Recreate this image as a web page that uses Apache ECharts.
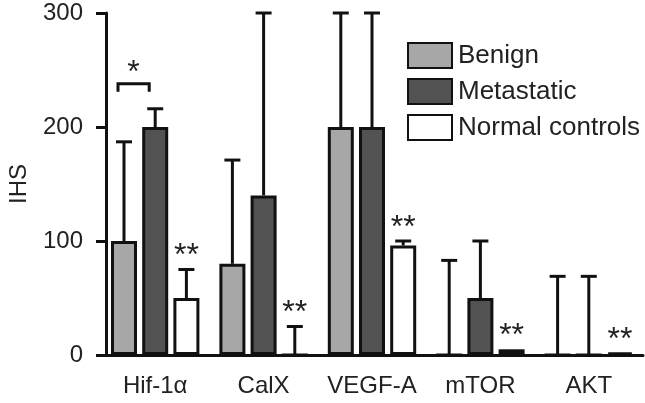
<!DOCTYPE html>
<html>
<head>
<meta charset="utf-8">
<script src="https://cdn.jsdelivr.net/npm/echarts@6/dist/echarts.min.js"></script>
<style>
html,body{margin:0;padding:0;background:#fff;}
#chart{width:645px;height:403px;}
</style>
</head>
<body>
<div id="chart"></div>
<script>
const categories = ['Hif-1\u03B1', 'CalX', 'VEGF-A', 'mTOR', 'AKT'];
const seriesNames = ['Benign', 'Metastatic', 'Normal controls'];
const benign = [100, 80, 200, 0, 0];
const benignErrTop = [187, 171, 300, 83, 69];
const metastatic = [200, 140, 200, 50, 0];
const metastaticErrTop = [216, 300, 300, 100, 69];
const normal = [50, 0, 96, 5, 2];
const normalErrTop = [75, 25, 100, 5, 2];
const normalSig = ['**', '**', '**', '**', '**'];
const yTicks = [0, 100, 200, 300];
// significance bracket between Benign and Metastatic for Hif-1α
const bracketCat = 0;
const bracketValue = 238;
const bracketLegValue = 231;
const bracketLabel = '*';

const FONT = '"Liberation Sans", Arial, sans-serif';
const BAR_W = 26;
const GAP_PCT = 0.2;
const STEP = BAR_W * (1 + GAP_PCT);
const offsets = [-STEP, 0, STEP];
const colors = ['#a7a7a7', '#525252', '#ffffff'];

const chart = echarts.init(document.getElementById('chart'), null, {renderer: 'canvas'});

function errSeries(vals, tops, idx) {
  return {
    type: 'custom',
    z: 5,
    clip: false,
    silent: true,
    data: vals.map((v, i) => [i, v, tops[i]]),
    renderItem: function (params, api) {
      const base = api.coord([api.value(0), api.value(1)]);
      const top = api.coord([api.value(0), api.value(2)]);
      const x = base[0] + offsets[idx];
      if (api.value(2) <= api.value(1)) return null;
      const st = {stroke: '#111', lineWidth: 3, fill: null};
      return {
        type: 'group',
        children: [
          {type: 'line', shape: {x1: x, y1: base[1], x2: x, y2: top[1]}, style: st},
          {type: 'line', shape: {x1: x - 8, y1: top[1], x2: x + 8, y2: top[1]}, style: st}
        ]
      };
    }
  };
}

const barStyle = (c) => ({color: c, borderColor: '#111', borderWidth: 3});

const option = {
  animation: false,
  backgroundColor: '#fff',
  grid: {left: 101, right: 2, top: 13, bottom: 48, containLabel: false, outerBoundsMode: 'none'},
  legend: {
    orient: 'vertical',
    left: 402,
    top: 37,
    itemWidth: 44,
    itemHeight: 25,
    itemGap: 9,
    icon: 'rect',
    data: seriesNames,
    textStyle: {fontFamily: FONT, fontSize: 26, color: '#222', padding: [0, 0, 0, 1]}
  },
  xAxis: {
    type: 'category',
    data: categories,
    axisLine: {lineStyle: {color: '#111', width: 3}},
    axisTick: {show: false},
    axisLabel: {fontFamily: FONT, fontSize: 24, color: '#222', margin: 19, interval: 0}
  },
  yAxis: {
    type: 'value',
    min: yTicks[0],
    max: yTicks[yTicks.length - 1],
    interval: 100,
    offset: -5,
    name: 'IHS',
    nameLocation: 'middle',
    nameRotate: 90,
    nameGap: 75,
    nameTextStyle: {fontFamily: FONT, fontSize: 24, color: '#222'},
    splitLine: {show: false},
    axisLine: {show: true, lineStyle: {color: '#111', width: 3}},
    axisTick: {show: true, length: 10, lineStyle: {color: '#111', width: 3}},
    axisLabel: {fontFamily: FONT, fontSize: 24, color: '#222', margin: 23}
  },
  series: [
    {name: seriesNames[0], type: 'bar', data: benign, barWidth: BAR_W, barGap: '20%', itemStyle: barStyle(colors[0])},
    {name: seriesNames[1], type: 'bar', data: metastatic, barWidth: BAR_W, barGap: '20%', itemStyle: barStyle(colors[1])},
    {name: seriesNames[2], type: 'bar', data: normal, barWidth: BAR_W, barGap: '20%', itemStyle: barStyle(colors[2])},
    errSeries(benign, benignErrTop, 0),
    errSeries(metastatic, metastaticErrTop, 1),
    errSeries(normal, normalErrTop, 2),
    {
      type: 'custom',
      z: 6,
      clip: false,
      silent: true,
      data: normalErrTop.map((v, i) => [i, Math.max(v, normal[i])]),
      renderItem: function (params, api) {
        const p = api.coord([api.value(0), api.value(1)]);
        return {
          type: 'text',
          style: {
            text: normalSig[params.dataIndex],
            x: p[0] + offsets[2],
            y: p[1] + 3,
            textAlign: 'center',
            textVerticalAlign: 'bottom',
            font: '32px ' + FONT,
            fill: '#222'
          }
        };
      }
    },
    {
      type: 'custom',
      z: 6,
      clip: false,
      silent: true,
      data: [[bracketCat, bracketValue, bracketLegValue]],
      renderItem: function (params, api) {
        const top = api.coord([api.value(0), api.value(1)]);
        const leg = api.coord([api.value(0), api.value(2)]);
        const x1 = top[0] + offsets[0] - 6;
        const x2 = top[0] + offsets[1] - 6;
        const st = {stroke: '#111', lineWidth: 3, fill: null};
        return {
          type: 'group',
          children: [
            {type: 'polyline', shape: {points: [[x1, leg[1]], [x1, top[1]], [x2, top[1]], [x2, leg[1]]]}, style: st},
            {type: 'text', style: {text: bracketLabel, x: (x1 + x2) / 2, y: top[1] + 5, textAlign: 'center', textVerticalAlign: 'bottom', font: '32px ' + FONT, fill: '#222'}}
          ]
        };
      }
    }
  ]
};
chart.setOption(option);
</script>
</body>
</html>
